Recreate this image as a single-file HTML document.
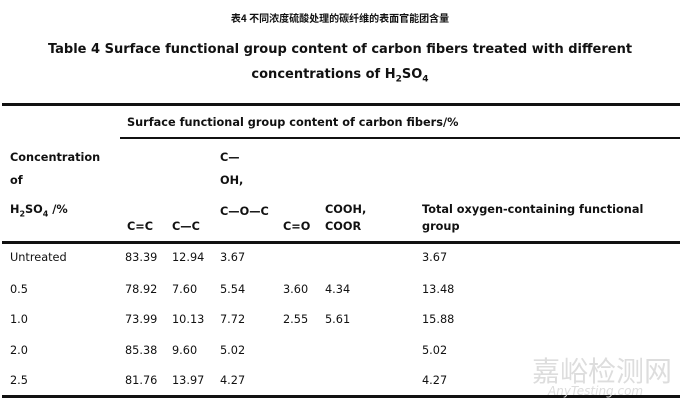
<!DOCTYPE html>
<html><head><style>
body{margin:0;background:#fff;width:680px;height:413px;position:relative;overflow:hidden;font-family:"DejaVu Sans","Liberation Sans",sans-serif;color:#111}
.t{position:absolute;white-space:nowrap;font-size:11.3px;line-height:12px}
.b{font-weight:bold}
.c{left:0;width:680px;text-align:center}
.l{position:absolute;background:#111}
</style></head><body>
<div class="t c b" style="top:12px;font-size:10px;font-family:'Noto Sans CJK SC',sans-serif">表4 不同浓度硫酸处理的碳纤维的表面官能团含量</div>
<div class="t c b" style="top:42px;font-size:13px;line-height:16px">Table 4 Surface functional group content of carbon fibers treated with different</div>
<div class="t c b" style="top:67px;font-size:13px;line-height:16px">concentrations of H<sub style="font-size:9px">2</sub>SO<sub style="font-size:9px">4</sub></div>
<div class="l" style="left:2px;top:103px;width:678px;height:3px"></div>
<div class="t b" style="left:127px;top:117px">Surface functional group content of carbon fibers/%</div>
<div class="l" style="left:120px;top:137px;width:560px;height:2px"></div>
<div class="t b" style="left:10px;top:152px">Concentration</div>
<div class="t b" style="left:10px;top:175px">of</div>
<div class="t b" style="left:10px;top:204px">H<sub style="font-size:8px">2</sub>SO<sub style="font-size:8px">4</sub> /%</div>
<div class="t b" style="left:220px;top:152px">C—</div>
<div class="t b" style="left:220px;top:175px">OH,</div>
<div class="t b" style="left:220px;top:206px">C—O—C</div>
<div class="t b" style="left:127px;top:221px">C=C</div>
<div class="t b" style="left:172px;top:221px">C—C</div>
<div class="t b" style="left:283px;top:221px">C=O</div>
<div class="t b" style="left:325px;top:204px">COOH,</div>
<div class="t b" style="left:325px;top:221px">COOR</div>
<div class="t b" style="left:422px;top:204px">Total oxygen-containing functional</div>
<div class="t b" style="left:422px;top:221px">group</div>
<div class="l" style="left:2px;top:241px;width:678px;height:3px"></div>
<div class="t" style="left:10px;top:252px">Untreated</div><div class="t" style="left:125px;top:252px">83.39</div><div class="t" style="left:172px;top:252px">12.94</div><div class="t" style="left:220px;top:252px">3.67</div><div class="t" style="left:422px;top:252px">3.67</div>
<div class="t" style="left:10px;top:284px">0.5</div><div class="t" style="left:125px;top:284px">78.92</div><div class="t" style="left:172px;top:284px">7.60</div><div class="t" style="left:220px;top:284px">5.54</div><div class="t" style="left:283px;top:284px">3.60</div><div class="t" style="left:325px;top:284px">4.34</div><div class="t" style="left:422px;top:284px">13.48</div>
<div class="t" style="left:10px;top:314px">1.0</div><div class="t" style="left:125px;top:314px">73.99</div><div class="t" style="left:172px;top:314px">10.13</div><div class="t" style="left:220px;top:314px">7.72</div><div class="t" style="left:283px;top:314px">2.55</div><div class="t" style="left:325px;top:314px">5.61</div><div class="t" style="left:422px;top:314px">15.88</div>
<div class="t" style="left:10px;top:345px">2.0</div><div class="t" style="left:125px;top:345px">85.38</div><div class="t" style="left:172px;top:345px">9.60</div><div class="t" style="left:220px;top:345px">5.02</div><div class="t" style="left:422px;top:345px">5.02</div>
<div class="t" style="left:10px;top:375px">2.5</div><div class="t" style="left:125px;top:375px">81.76</div><div class="t" style="left:172px;top:375px">13.97</div><div class="t" style="left:220px;top:375px">4.27</div><div class="t" style="left:422px;top:375px">4.27</div>
<div class="l" style="left:2px;top:395px;width:678px;height:3px"></div>
<div class="t" style="left:532px;top:355px;font-size:28px;line-height:30px;color:#ddd;font-family:'Noto Sans CJK SC',sans-serif">嘉峪检测网</div>
<div class="t" style="left:548px;top:385px;font-size:12px;color:#ddd;font-style:italic">AnyTesting.com</div>
</body></html>
